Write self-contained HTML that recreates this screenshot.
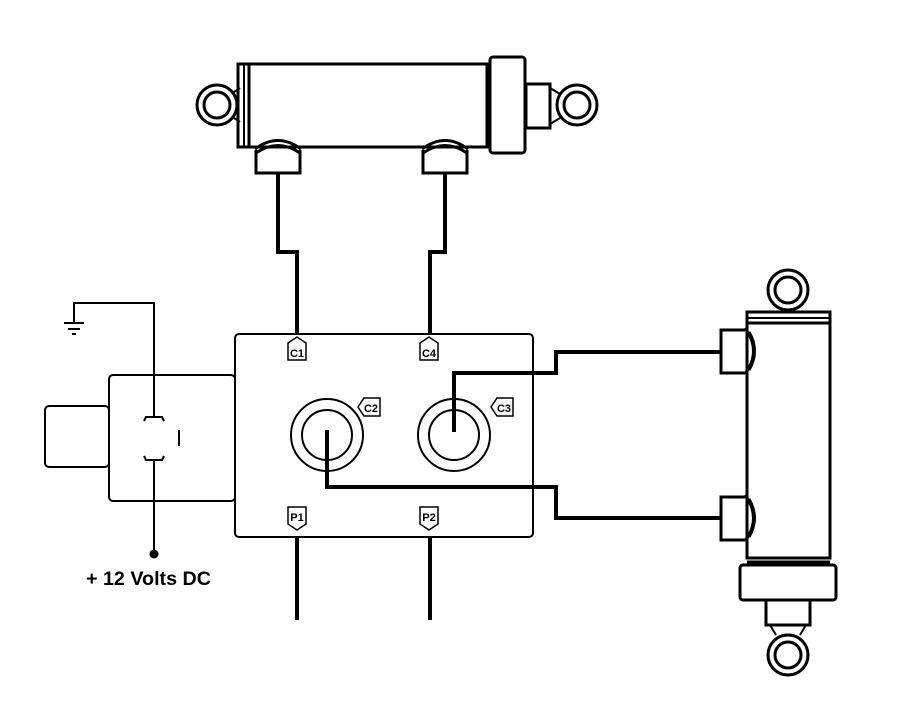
<!DOCTYPE html>
<html><head><meta charset="utf-8"><style>
html,body{margin:0;padding:0;background:#fff;}
svg{display:block;}
text{font-family:"Liberation Sans",sans-serif;font-weight:bold;}
</style></head><body>
<svg width="918" height="728" viewBox="0 0 918 728" xmlns="http://www.w3.org/2000/svg">
<g fill="none" stroke="#000">
<!-- Top cylinder -->
<circle cx="217" cy="105" r="20" stroke-width="3"/>
<circle cx="217" cy="105" r="13" stroke-width="3"/>
<path d="M234 92 L240 88 M234 118 L240 122" stroke-width="2"/>
<rect x="238" y="64" width="250" height="83" stroke-width="3"/>
<line x1="244" y1="64" x2="244" y2="147" stroke-width="2"/>
<line x1="249" y1="64" x2="249" y2="147" stroke-width="3"/>
<line x1="487" y1="64" x2="487" y2="147" stroke-width="3"/>
<rect x="490" y="57" width="35" height="96" rx="3" stroke-width="3"/>
<rect x="526" y="84" width="24" height="44" stroke-width="3"/>
<path d="M550 88 L560 94 M550 124 L560 118" stroke-width="2"/>
<circle cx="577" cy="105" r="20" stroke-width="3"/>
<circle cx="577" cy="105" r="13" stroke-width="3"/>
<!-- top ports -->
<g stroke-width="3">
<path d="M256 150 V173 H300 V150"/>
<path d="M255 149 Q278 132 301 149" /><path d="M256 153 Q278 138 300 153"/>
<path d="M423 150 V173 H467 V150"/>
<path d="M422 149 Q445 132 468 149"/><path d="M423 153 Q445 138 467 153"/>
</g>
<!-- Right cylinder -->
<circle cx="788" cy="290" r="20" stroke-width="3"/>
<circle cx="788" cy="290" r="13" stroke-width="3"/>
<rect x="747" y="312" width="83" height="246" stroke-width="3"/>
<line x1="747" y1="318" x2="830" y2="318" stroke-width="2"/>
<line x1="747" y1="323" x2="830" y2="323" stroke-width="3"/>
<line x1="747" y1="562" x2="830" y2="562" stroke-width="3"/>
<rect x="740" y="565" width="96" height="35" rx="3" stroke-width="3"/>
<rect x="766" y="600" width="44" height="25" stroke-width="3"/>
<path d="M770 625 L776 635 M806 625 L800 635" stroke-width="2"/>
<circle cx="788" cy="655" r="20" stroke-width="3"/>
<circle cx="788" cy="655" r="13" stroke-width="3"/>
<g stroke-width="3">
<path d="M745 330 H721 V373 H745"/>
<path d="M745 328 Q762 351 745 374"/><path d="M749 332 Q760 351 749 370"/>
<path d="M745 497 H721 V540 H745"/>
<path d="M745 495 Q762 518 745 541"/><path d="M749 499 Q760 518 749 537"/>
</g>
<!-- wires -->
<g stroke-width="4">
<path d="M278 173 V252 H297 V334"/>
<path d="M445 173 V252 H430 V334"/>
<path d="M297 537 V620"/>
<path d="M430 537 V620"/>
<path d="M454 432 V373 H556 V352 H721"/>
<path d="M327 430 V487 H556 V518 H721"/>
</g>
<!-- valve -->
<rect x="235" y="334" width="298" height="203" rx="4" stroke-width="2"/>
<rect x="109" y="375" width="126" height="126" rx="4" stroke-width="2"/>
<rect x="45" y="406" width="64" height="61" rx="4" stroke-width="2"/>
<circle cx="327" cy="435" r="36" stroke-width="2"/>
<circle cx="327" cy="435" r="25" stroke-width="2"/>
<circle cx="454" cy="435" r="36" stroke-width="2"/>
<circle cx="454" cy="435" r="25" stroke-width="2"/>
<!-- electrical -->
<path d="M74 323 V303 H154 V416" stroke-width="2"/>
<path d="M64 323 H84 M68 329 H80 M72 334 H76" stroke-width="2"/>
<path d="M144 421 L146 417 H162 L164 421" stroke-width="2"/>
<path d="M144 456 L146 460 H162 L164 456" stroke-width="2"/>
<path d="M154 460 V554" stroke-width="2"/>
<line x1="179" y1="430" x2="179" y2="446" stroke-width="2"/>
<!-- labels -->
<g stroke-width="1.5" fill="#fff">
<path d="M288 343 L297 337 L306 343 V360 H288 Z"/>
<path d="M420 343 L429 337 L438 343 V360 H420 Z"/>
<path d="M288 507 H306 V524 L297 530 L288 524 Z"/>
<path d="M420 507 H438 V524 L429 530 L420 524 Z"/>
<path d="M358 407 L364 398 H380 V416 H364 Z"/>
<path d="M491 407 L497 398 H513 V416 H497 Z"/>
</g>
</g>
<circle cx="154" cy="554" r="4.5" fill="#000"/>
<g font-size="11" text-anchor="middle">
<text x="297" y="357">C1</text>
<text x="429" y="357">C4</text>
<text x="297" y="521">P1</text>
<text x="429" y="521">P2</text>
<text x="371" y="412">C2</text>
<text x="504" y="412">C3</text>
</g>
<text x="86" y="585" font-size="19" textLength="125" lengthAdjust="spacingAndGlyphs">+ 12 Volts DC</text>
</svg>
</body></html>
